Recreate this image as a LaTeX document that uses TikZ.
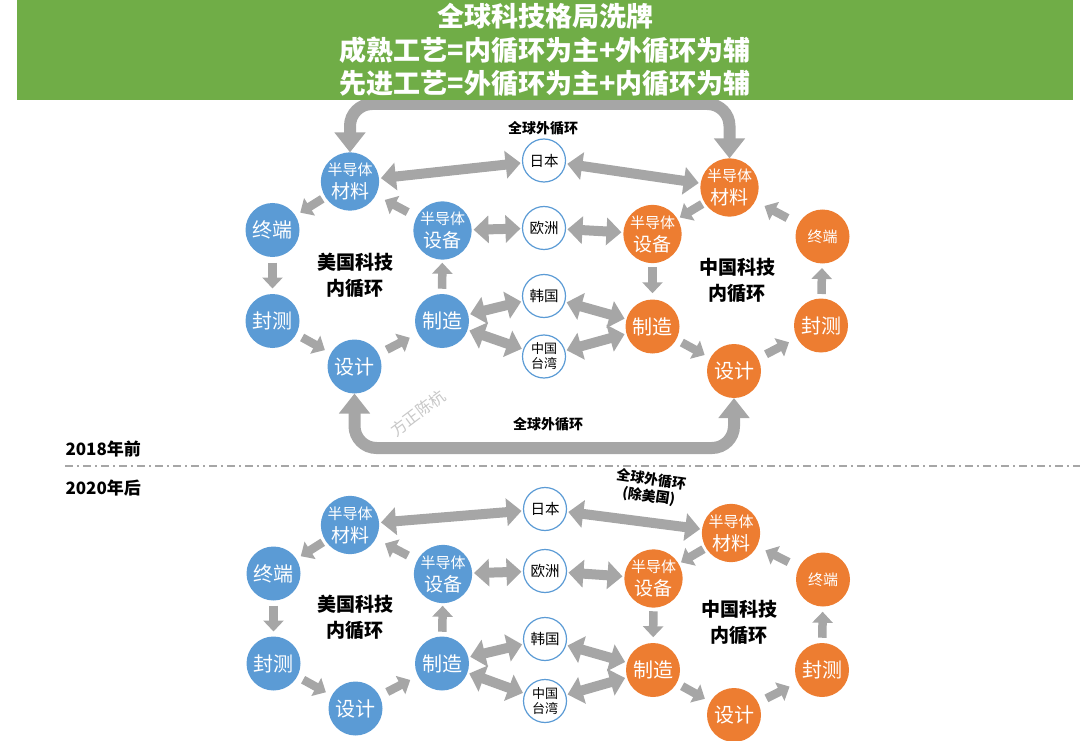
\documentclass[tikz,border=0pt]{standalone}
\usepackage{fontspec}
\setmainfont{Noto Sans CJK SC}
\usetikzlibrary{arrows.meta,calc}
\definecolor{usblue}{HTML}{5B9BD5}
\definecolor{cnorange}{HTML}{ED7D31}
\definecolor{titlegreen}{HTML}{70AD47}
\definecolor{arrowgray}{HTML}{A6A6A6}
\newcommand\fs[2]{{\fontsize{#1}{#1}\selectfont #2}}
\newcommand\semi[1]{\fs{15}{半导体}\\[3pt]\fs{19}{#1}}
\newcommand\flow[2]{%
  \coordinate (fm) at ($(#1)!0.5!(#2)$);
  \draw[flowarr] ($(fm)!13pt!(#1)$) -- ($(fm)!13pt!(#2)$);}
\begin{document}
\begin{tikzpicture}[x=1pt,y=-1pt,
  usn/.style={circle, fill=usblue, text=white, minimum size=54pt, inner sep=0pt, outer sep=0pt, align=center, font=\fontsize{20}{20}\selectfont},
  cnn/.style={usn, fill=cnorange},
  midn/.style={circle, draw=usblue, line width=1.2pt, fill=white, minimum size=43pt, inner sep=0pt, outer sep=0pt, align=center, text=black, font=\fontsize{14.5}{16}\selectfont},
  lbl/.style={align=center, text=black, font=\bfseries\fontsize{19}{26}\selectfont},
  small/.style={align=center, text=black, font=\bfseries\fontsize{14}{17}\selectfont},
  yearlbl/.style={anchor=west, text=black, font=\bfseries\fontsize{17}{19}\selectfont},
  bigloop/.style={draw=arrowgray, line width=12pt, rounded corners=22pt,
    {Triangle[width=30pt,length=20pt]}-{Triangle[width=30pt,length=20pt]}},
  flowarr/.style={draw=arrowgray, line width=8.5pt, -{Triangle[width=20pt,length=11pt]}},
  dbl/.style={draw=arrowgray, line width=10pt, shorten <=2pt, shorten >=2pt,
    {Triangle[width=27pt,length=15pt]}-{Triangle[width=27pt,length=15pt]}},
  divline/.style={draw=arrowgray, line width=2pt, dash pattern=on 8pt off 4pt on 2pt off 4pt}
]
\useasboundingbox (0,0) rectangle (1080,741);

% ---------- nodes, 2018 ----------
\node[usn] (usA) at (350,181.5) {\semi{材料}};
\node[usn] (usT) at (272.5,230) {终端};
\node[usn] (usF) at (272.5,321) {封测};
\node[usn] (usD) at (354.5,366.5) {设计};
\node[usn] (usM) at (442,321) {制造};
\node[usn] (usE) at (442.5,230.5) {\semi{设备}};
\node[midn] (jp1) at (544,160.5) {日本};
\node[midn] (eu1) at (544,228) {欧洲};
\node[midn] (kr1) at (544,296) {韩国};
\node[midn, font=\fontsize{13}{15}\selectfont] (tw1) at (544,356.5) {中国\\台湾};
\node[cnn] (cnA) at (729.5,187.5) {\semi{材料}};
\node[cnn] (cnE) at (652.5,234) {\semi{设备}};
\node[cnn] (cnM) at (652.5,326.5) {制造};
\node[cnn] (cnD) at (734,371) {设计};
\node[cnn] (cnF) at (821,325.5) {封测};
\node[cnn, font=\fontsize{15}{15}\selectfont] (cnT) at (822.5,236.5) {终端};

% ---------- nodes, 2020 ----------
\node[usn] (usA2) at (350,525) {\semi{材料}};
\node[usn] (usT2) at (273.5,573.5) {终端};
\node[usn] (usF2) at (273.5,663.5) {封测};
\node[usn] (usD2) at (355.5,708.5) {设计};
\node[usn] (usM2) at (442,663.5) {制造};
\node[usn] (usE2) at (443,574) {\semi{设备}};
\node[midn] (jp2) at (545,509) {日本};
\node[midn] (eu2) at (545,571) {欧洲};
\node[midn] (kr2) at (545,639) {韩国};
\node[midn, font=\fontsize{13}{15}\selectfont] (tw2) at (545,701) {中国\\台湾};
\node[cnn] (cnA2) at (731,533) {\semi{材料}};
\node[cnn] (cnE2) at (653.5,578.5) {\semi{设备}};
\node[cnn] (cnM2) at (653,670) {制造};
\node[cnn] (cnD2) at (734,715) {设计};
\node[cnn] (cnF2) at (822,670) {封测};
\node[cnn, font=\fontsize{15}{15}\selectfont] (cnT2) at (823,579.5) {终端};

% ---------- global loops (2018) ----------
\coordinate (loopTop) at (540,104);
\coordinate (loopBot) at (540,448);
\draw[bigloop] (usA.north) -- (usA.north |- loopTop) -- (cnA.north |- loopTop) -- (cnA.north);
\draw[bigloop] (usD.south) -- (usD.south |- loopBot) -- (cnD.south |- loopBot) -- (cnD.south);

% ---------- title bar ----------
\fill[titlegreen] (17,0) rectangle (1073,100);
\node[align=center, text=white, font=\bfseries\fontsize{27}{33.5}\selectfont] (title) at (545,50)
  {全球科技格局洗牌\\成熟工艺=内循环为主+外循环为辅\\先进工艺=外循环为主+内循环为辅};

% ---------- divider ----------
\coordinate (divL) at (65,466);
\coordinate (divR) at (1080,466);
\draw[divline] (divL) -- (divR);
\node[yearlbl] (y2018) at (62,449.5) {2018年前};
\node[yearlbl] (y2020) at (62,488) {2020年后};

% ---------- labels ----------
\node[lbl] (usL1) at (355,275) {美国科技\\内循环};
\node[lbl] (cnL1) at (737,280) {中国科技\\内循环};
\node[lbl] (usL2) at (355,617) {美国科技\\内循环};
\node[lbl] (cnL2) at (739,622) {中国科技\\内循环};
\node[small] (glob1) at (543,128.5) {全球外循环};
\node[small] (glob2) at (548,424) {全球外循环};
\node[small, rotate=-8] (glob3) at (650,488) {全球外循环\\(除美国)};
\node[rotate=37, text=black!22, font=\fontsize{16}{16}\selectfont] (wm) at (418,413) {方正陈杭};

% ---------- inner loop arrows ----------
\flow{usA}{usT}\flow{usT}{usF}\flow{usF}{usD}\flow{usD}{usM}\flow{usM}{usE}\flow{usE}{usA}
\flow{cnA}{cnE}\flow{cnE}{cnM}\flow{cnM}{cnD}\flow{cnD}{cnF}\flow{cnF}{cnT}\flow{cnT}{cnA}
\flow{usA2}{usT2}\flow{usT2}{usF2}\flow{usF2}{usD2}\flow{usD2}{usM2}\flow{usM2}{usE2}\flow{usE2}{usA2}
\flow{cnA2}{cnE2}\flow{cnE2}{cnM2}\flow{cnM2}{cnD2}\flow{cnD2}{cnF2}\flow{cnF2}{cnT2}\flow{cnT2}{cnA2}

% ---------- exchange arrows ----------
\draw[dbl] (usA) -- (jp1);
\draw[dbl] (jp1) -- (cnA);
\draw[dbl] (usE) -- (eu1);
\draw[dbl] (eu1) -- (cnE);
\draw[dbl] (usM) -- (kr1);
\draw[dbl] (usM) -- (tw1);
\draw[dbl] (kr1) -- (cnM);
\draw[dbl] (tw1) -- (cnM);

\draw[dbl] (usA2) -- (jp2);
\draw[dbl] (jp2) -- (cnA2);
\draw[dbl] (usE2) -- (eu2);
\draw[dbl] (eu2) -- (cnE2);
\draw[dbl] (usM2) -- (kr2);
\draw[dbl] (usM2) -- (tw2);
\draw[dbl] (kr2) -- (cnM2);
\draw[dbl] (tw2) -- (cnM2);
\end{tikzpicture}
\end{document}
